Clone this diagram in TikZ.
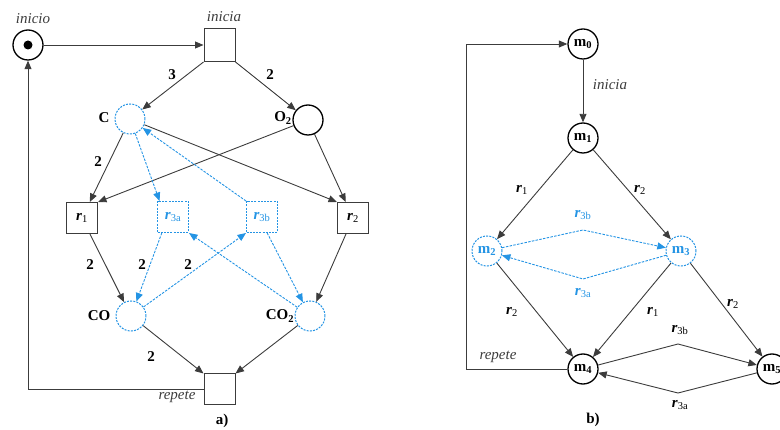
\documentclass[tikz,border=0pt]{standalone}
\usepackage{fontspec}
\setmainfont{Liberation Serif}
\usetikzlibrary{arrows.meta}
\definecolor{pblue}{RGB}{36,148,228}
\definecolor{lgray}{RGB}{60,60,60}
\newcommand{\rr}[1]{\textbf{\textit{r}}\textsubscript{#1}}
\newcommand{\mm}[1]{\textbf{m}\textsubscript{\textbf{#1}}}
\begin{document}
\begin{tikzpicture}[x=1pt,y=-1pt,
  font=\fontsize{14}{16}\selectfont,
  place/.style={circle,draw=black,line width=1.3pt,minimum size=30pt,inner sep=0pt,font=\fontsize{15}{17}\selectfont},
  bplace/.style={place,draw=pblue,text=pblue,line width=1pt,dash pattern=on 2pt off 1.2pt},
  trans/.style={rectangle,draw=lgray,line width=1pt,minimum width=31pt,minimum height=31pt,inner sep=0pt,font=\fontsize{15}{17}\selectfont},
  btrans/.style={trans,draw=pblue,text=pblue,dash pattern=on 2pt off 1.2pt},
  arc/.style={draw=lgray,line width=0.9pt,-{Triangle[length=8.5pt,width=7pt]}},
  barc/.style={arc,draw=pblue,dash pattern=on 2.5pt off 1.3pt},
  lbl/.style={inner sep=0pt,font=\fontsize{15}{17}\selectfont\bfseries},
  ilbl/.style={inner sep=0pt,text=lgray,font=\fontsize{15}{17}\selectfont\itshape},
  rlbl/.style={inner sep=0pt,font=\fontsize{15}{17}\selectfont},
  brlbl/.style={rlbl,text=pblue}]
\useasboundingbox (0,0) rectangle (780,430);
% ---------- a) ----------
\node[place] (inicio) at (28,45) {};
\fill (inicio.center) circle (4.5pt);
\node[ilbl] (linicio) at (33,19) {inicio};
\node[trans,minimum height=33pt] (inicia) at (219.5,45) {};
\node[ilbl] (linicia) at (224,17) {inicia};
\node[bplace] (C) at (130,119) {};
\node[lbl] (lC) at (104,118) {C};
\node[place] (O2) at (308,120) {};
\node[lbl] (lO2) at (283,118) {O\textsubscript{2}};
\node[trans] (r1) at (82,218) {\rr{1}};
\node[btrans] (r3a) at (173,217) {\rr{3a}};
\node[btrans] (r3b) at (262,217) {\rr{3b}};
\node[trans] (r2) at (353,218) {\rr{2}};
\node[bplace] (CO) at (131,316) {};
\node[lbl] (lCO) at (99,316) {CO};
\node[bplace] (CO2) at (310,316) {};
\node[lbl] (lCO2) at (280,316) {CO\textsubscript{2}};
\node[trans] (repete) at (219.5,389.5) {};
\node[ilbl] (lrepete) at (177,397) {repete};
\node[lbl] (la) at (222,421) {a)};

\draw[arc] (inicio) -- (inicia);
\draw[arc] (inicia.south west) -- (C);
\node[lbl] (w1) at (172,75) {3};
\draw[arc] (inicia.south east) -- (O2);
\node[lbl] (w2) at (270,75) {2};
\draw[arc] (C) -- (r1);
\node[lbl] (w3) at (98,162) {2};
\draw[arc] (O2) -- (r1.north east);
\draw[arc] (C) -- (r2.north west);
\draw[arc] (O2) -- (r2);
\draw[barc] (C) -- (r3a.130);
\draw[barc] (r3b.north west) -- (C);
\draw[arc] (r1) -- (CO);
\node[lbl] (w4) at (90,265) {2};
\draw[barc] (r3a.235) -- (CO);
\node[lbl] (w5) at (142,265) {2};
\draw[barc] (CO) -- (r3b.south west);
\node[lbl] (w6) at (188,265) {2};
\draw[barc] (CO2) -- (r3a.south east);
\draw[barc] (r3b.288) -- (CO2);
\draw[arc] (r2) -- (CO2);
\draw[arc] (CO) -- (repete.north west);
\node[lbl] (w7) at (151,357) {2};
\draw[arc] (CO2) -- (repete.north east);
\draw[arc] (repete.west) -| (inicio.south);
% ---------- b) ----------
\node[place] (m0) at (583,44) {\mm{0}};
\node[place] (m1) at (583,138) {\mm{1}};
\node[bplace] (m2) at (487,251) {\mm{2}};
\node[bplace] (m3) at (681,251) {\mm{3}};
\node[place] (m4) at (583,369) {\mm{4}};
\node[place] (m5) at (772,369) {\mm{5}};
\coordinate (lb) at (466,369);
\coordinate (lt) at (466,44);
\coordinate (ua) at (583,230);
\coordinate (la2) at (583,279);
\coordinate (ub) at (678,344);
\coordinate (lb2) at (678,393);

\draw[arc] (m4) -- (lb) -- (lt) -- (m0);
\node[ilbl] (lrep2) at (498,357) {repete};
\draw[arc] (m0) -- (m1);
\node[ilbl] (lini2) at (610,85) {inicia};
\draw[arc] (m1) -- (m2);
\node[rlbl] (e1) at (522,190) {\rr{1}};
\draw[arc] (m1) -- (m3);
\node[rlbl] (e2) at (640,190) {\rr{2}};
\draw[barc] (m2) -- (ua) -- (m3);
\node[brlbl] (e3) at (583,215) {\rr{3b}};
\draw[barc] (m3) -- (la2) -- (m2);
\node[brlbl] (e4) at (583,293) {\rr{3a}};
\draw[arc] (m2) -- (m4);
\node[rlbl] (e5) at (512,312) {\rr{2}};
\draw[arc] (m3) -- (m4);
\node[rlbl] (e6) at (653,312) {\rr{1}};
\draw[arc] (m3) -- (m5);
\node[rlbl] (e7) at (733,304) {\rr{2}};
\draw[arc] (m4) -- (ub) -- (m5);
\node[rlbl] (e8) at (680,330) {\rr{3b}};
\draw[arc] (m5) -- (lb2) -- (m4);
\node[rlbl] (e9) at (680,405) {\rr{3a}};
\node[lbl] (lb3) at (593,420) {b)};
\end{tikzpicture}
\end{document}
